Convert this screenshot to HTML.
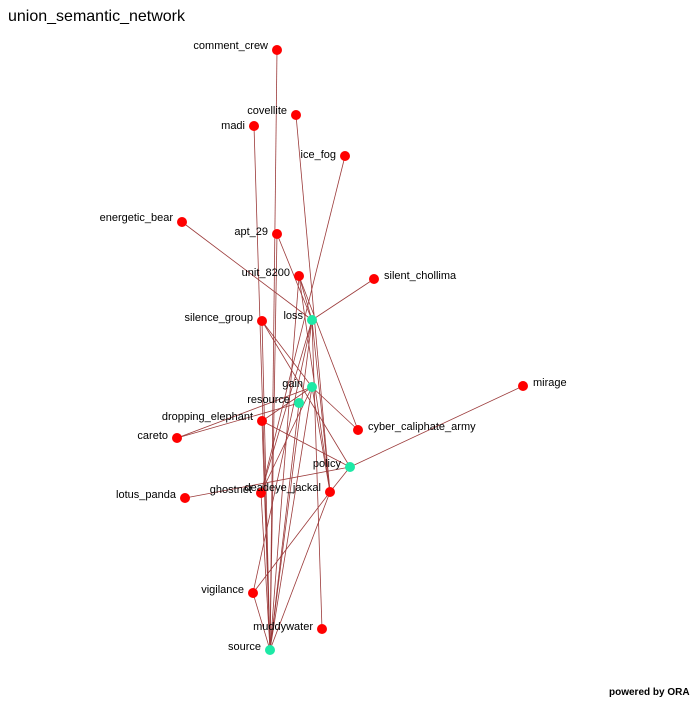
<!DOCTYPE html>
<html><head><style>
body{margin:0;background:#fff;width:700px;height:700px;overflow:hidden}
svg text{font-family:"Liberation Sans",sans-serif;font-size:11px;fill:#000}
</style></head><body>
<svg width="700" height="700" xmlns="http://www.w3.org/2000/svg">
<text x="8" y="21" style="font-size:16px">union_semantic_network</text>
<text x="609" y="695" style="font-size:10px;font-weight:bold">powered by ORA</text>
<g stroke="#9b3a3a" stroke-width="0.8" fill="none">
<line x1="277" y1="50" x2="270" y2="650"/>
<line x1="254" y1="126" x2="270" y2="650"/>
<line x1="296" y1="115" x2="330" y2="492"/>
<line x1="345" y1="156" x2="261" y2="493"/>
<line x1="182" y1="222" x2="312" y2="320"/>
<line x1="277" y1="234" x2="270" y2="650"/>
<line x1="277" y1="234" x2="312" y2="320"/>
<line x1="299" y1="276" x2="312" y2="320"/>
<line x1="299" y1="276" x2="358" y2="430"/>
<line x1="299" y1="276" x2="330" y2="492"/>
<line x1="299" y1="276" x2="270" y2="650"/>
<line x1="374" y1="279" x2="312" y2="320"/>
<line x1="312" y1="320" x2="261" y2="493"/>
<line x1="312" y1="320" x2="270" y2="650"/>
<line x1="312" y1="320" x2="253" y2="593"/>
<line x1="312" y1="320" x2="330" y2="492"/>
<line x1="312" y1="320" x2="322" y2="629"/>
<line x1="262" y1="321" x2="270" y2="650"/>
<line x1="262" y1="321" x2="312" y2="387"/>
<line x1="262" y1="321" x2="350" y2="467"/>
<line x1="312" y1="387" x2="177" y2="438"/>
<line x1="299" y1="403" x2="177" y2="438"/>
<line x1="312" y1="387" x2="358" y2="430"/>
<line x1="312" y1="387" x2="270" y2="650"/>
<line x1="312" y1="387" x2="261" y2="493"/>
<line x1="312" y1="387" x2="330" y2="492"/>
<line x1="299" y1="403" x2="270" y2="650"/>
<line x1="262" y1="421" x2="350" y2="467"/>
<line x1="262" y1="421" x2="270" y2="650"/>
<line x1="262" y1="421" x2="312" y2="387"/>
<line x1="523" y1="386" x2="350" y2="467"/>
<line x1="350" y1="467" x2="185" y2="498"/>
<line x1="350" y1="467" x2="330" y2="492"/>
<line x1="330" y1="492" x2="253" y2="593"/>
<line x1="330" y1="492" x2="270" y2="650"/>
<line x1="253" y1="593" x2="270" y2="650"/>
<line x1="261" y1="493" x2="270" y2="650"/>
</g>
<g fill="#f00">
<circle cx="277" cy="50" r="5"/><circle cx="296" cy="115" r="5"/><circle cx="254" cy="126" r="5"/>
<circle cx="345" cy="156" r="5"/><circle cx="182" cy="222" r="5"/><circle cx="277" cy="234" r="5"/>
<circle cx="299" cy="276" r="5"/><circle cx="374" cy="279" r="5"/><circle cx="262" cy="321" r="5"/>
<circle cx="523" cy="386" r="5"/><circle cx="262" cy="421" r="5"/><circle cx="177" cy="438" r="5"/>
<circle cx="358" cy="430" r="5"/><circle cx="185" cy="498" r="5"/><circle cx="261" cy="493" r="5"/>
<circle cx="330" cy="492" r="5"/><circle cx="253" cy="593" r="5"/><circle cx="322" cy="629" r="5"/>
</g>
<g fill="#1de9a6">
<circle cx="312" cy="320" r="5"/><circle cx="312" cy="387" r="5"/><circle cx="299" cy="403" r="5"/>
<circle cx="350" cy="467" r="5"/><circle cx="270" cy="650" r="5"/>
</g>
<g text-anchor="end">
<text x="268" y="49">comment_crew</text><text x="287" y="114">covellite</text><text x="245" y="129">madi</text>
<text x="336" y="158">ice_fog</text><text x="173" y="221">energetic_bear</text><text x="268" y="235">apt_29</text>
<text x="290" y="276">unit_8200</text><text x="253" y="321">silence_group</text><text x="303" y="319">loss</text>
<text x="303" y="387">gain</text><text x="290" y="403">resource</text><text x="253" y="420">dropping_elephant</text>
<text x="168" y="439">careto</text><text x="341" y="467">policy</text><text x="176" y="498">lotus_panda</text>
<text x="252" y="493">ghostnet</text><text x="321" y="491">deadeye_jackal</text><text x="244" y="593">vigilance</text>
<text x="313" y="630">muddywater</text><text x="261" y="650">source</text>
</g>
<text x="384" y="279">silent_chollima</text>
<text x="533" y="386">mirage</text>
<text x="368" y="430">cyber_caliphate_army</text>
</svg>
</body></html>
